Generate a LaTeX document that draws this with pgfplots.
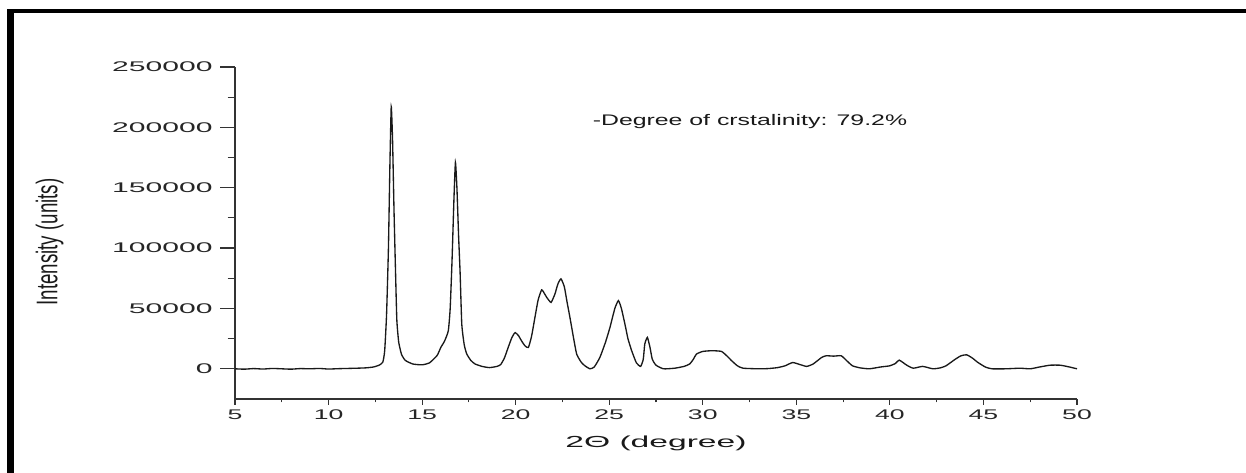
\documentclass[border=0pt]{standalone}
\usepackage{pgfplots}
\pgfplotsset{compat=1.18}
\usepackage{fontspec}
\setmainfont{Liberation Sans}
\begin{document}
\begin{tikzpicture}
\path[use as bounding box] (0,0) rectangle (934.5pt,354.75pt);
\fill[black] (5.25pt,0) rectangle (10.5pt,348pt);
\fill[black] (5.25pt,345pt) rectangle (934.5pt,348pt);
\pgfplotsset{
  common/.style={
    scale only axis, width=631.5pt, height=249pt,
    at={(176.25pt,55.5pt)}, anchor=south west,
    xmin=5, xmax=50, ymin=-25000, ymax=250000,
    tick align=outside,
    axis line style={line width=0.9pt, black!80},
    every tick/.style={line width=0.9pt, black!80},
    /pgf/number format/.cd, fixed, set thousands separator={}, assume math mode=true,
  },
}
% y axis
\begin{axis}[common,
  axis y line*=left, axis x line=none,
  ytick={0,50000,100000,150000,200000,250000},
  minor y tick num=1,
  scaled y ticks=false,
  major tick length=11pt, minor tick length=5.5pt,
  yticklabel style={font=\fontsize{10.5}{12}\selectfont, text=black!85, xscale=2.15, anchor=east, inner xsep=0pt, xshift=-2.5pt},
  ylabel={Intensity (units)},
  ylabel style={font=\fontsize{14}{16}\selectfont, text=black!90, yscale=1.6, at={(axis description cs:-0.22,0.473)}, anchor=center},
]
\addplot[draw=none] coordinates {(5,0)};
\end{axis}
% x axis and data
\begin{axis}[common,
  axis x line*=bottom, axis y line=none,
  xtick={5,10,...,50},
  minor x tick num=1,
  major tick length=4.5pt, minor tick length=2.5pt,
  xticklabel style={font=\fontsize{10.5}{12}\selectfont, text=black!85, xscale=1.9},
  xlabel={2Θ (degree)},
  xlabel style={font=\fontsize{12}{14}\selectfont, text=black!90, xscale=2.1, yshift=-5pt},
]
\addplot[black!90, line width=1pt, smooth, tension=0.3] coordinates {
(5,0) (5.5,-300) (6,200) (6.5,-200) (7,300) (7.5,0) (8,-300) (8.5,200) (9,0) (9.5,300) (10,-200) (10.5,100) (11,300) (11.5,500) (12,800) (12.4,1500) (12.7,3000) (12.9,5500) (13.0,15000) (13.1,45000) (13.2,100000) (13.28,170000) (13.35,217000) (13.42,190000) (13.5,130000) (13.58,80000) (13.65,40000) (13.75,22000) (13.9,12000) (14.1,7000) (14.5,4000) (15.0,3300) (15.4,5000) (15.8,11000) (16.0,17700) (16.2,23000) (16.4,31500) (16.5,50000) (16.6,90000) (16.7,140000) (16.78,171000) (16.86,150000) (16.95,110000) (17.03,80000) (17.12,37000) (17.25,20000) (17.38,12500) (17.6,7000) (17.83,4000) (18.2,2000) (18.6,1000) (19.0,2000) (19.2,3500) (19.4,9000) (19.6,17700) (19.8,26000) (19.97,30000) (20.15,27500) (20.32,23000) (20.5,19000) (20.68,17700) (20.85,27000) (21.03,42600) (21.2,57000) (21.39,65400) (21.55,62000) (21.66,59200) (21.89,55000) (22.1,62000) (22.25,70000) (22.42,74500) (22.6,68000) (22.75,55000) (22.9,42600) (23.1,25000) (23.26,12200) (23.5,5500) (23.7,2500) (23.97,0) (24.2,1500) (24.5,9400) (24.8,22000) (25.04,34300) (25.3,50000) (25.49,56500) (25.65,50000) (25.84,37000) (26.0,25000) (26.2,15000) (26.45,5000) (26.68,2000) (26.82,8000) (26.9,20500) (27.04,26000) (27.18,17700) (27.3,8000) (27.5,3000) (27.9,0) (28.5,500) (29.0,2000) (29.3,4000) (29.5,8000) (29.66,12200) (30.0,14400) (30.5,15000) (31.0,14400) (31.3,10500) (31.55,6600) (31.85,2500) (32.15,500) (33,0) (33.5,200) (34,1000) (34.4,2500) (34.8,5200) (35.2,3500) (35.55,2000) (35.9,4000) (36.35,9400) (36.6,10800) (37.0,10500) (37.4,10800) (37.7,6600) (38.0,2500) (38.4,800) (38.9,0) (39.5,1500) (40.0,2500) (40.3,4500) (40.5,7200) (40.9,3000) (41.25,500) (41.75,2000) (42.3,0) (42.7,800) (43.0,2500) (43.5,8000) (43.8,10800) (44.1,11600) (44.4,9000) (44.7,5300) (45.1,1500) (45.45,0) (46.2,0) (46.95,500) (47.5,0) (48.0,1500) (48.56,3000) (49.1,3000) (49.6,1500) (50,0)
};
\node[anchor=west, inner sep=0pt, font=\fontsize{11.5}{13}\selectfont, text=black!90, xscale=1.62] at (axis cs:24.1,205000) {-Degree of crstalinity: 79.2\%};
\end{axis}
\end{tikzpicture}
\end{document}
